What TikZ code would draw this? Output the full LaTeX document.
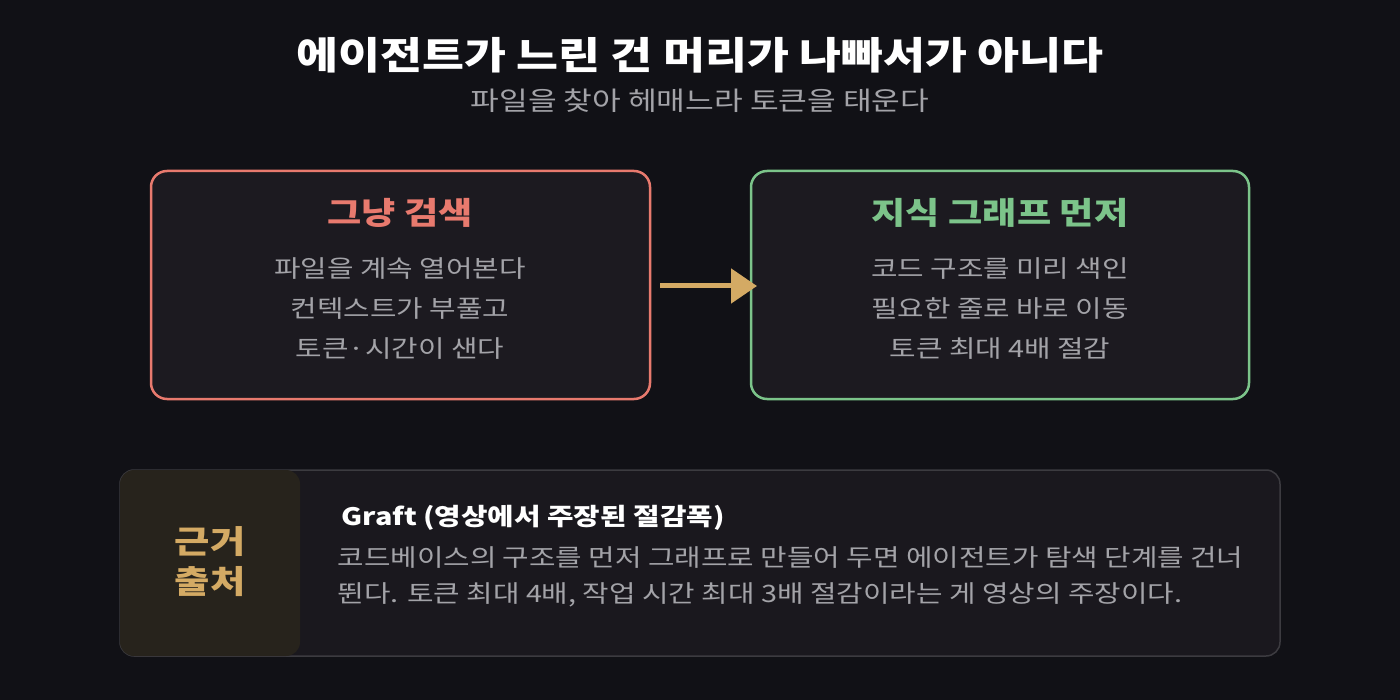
\documentclass[tikz,border=0pt]{standalone}
\usepackage{fontspec}
\setmainfont[FakeStretch=1.2]{Noto Sans CJK KR}
\usetikzlibrary{arrows.meta}
\definecolor{bg}{HTML}{111116}
\definecolor{boxbg}{HTML}{1C1A20}
\definecolor{red1}{HTML}{E87A6E}
\definecolor{grn}{HTML}{7CC48A}
\definecolor{gold}{HTML}{D4AA64}
\definecolor{txt}{HTML}{A3A3A8}
\definecolor{edge}{HTML}{3C3B40}
\definecolor{srcbg}{HTML}{27231C}
\begin{document}
\begin{tikzpicture}[x=1pt,y=-1pt,
  box/.style={draw,line width=2.5pt,rounded corners=16pt,fill=boxbg},
  body/.style={text=txt,font=\fontsize{24}{40}\selectfont,align=center},
  head/.style={font=\bfseries\fontsize{31}{36}\selectfont}]
\fill[bg] (0,0) rectangle (1400,700);
\useasboundingbox (0,0) rectangle (1400,700);
\node[text=white,font=\bfseries\fontsize{38}{44}\selectfont] (title) at (700,55) {에이전트가 느린 건 머리가 나빠서가 아니다};
\node[text=txt,font=\fontsize{26}{30}\selectfont] (sub) at (700,101) {파일을 찾아 헤매느라 토큰을 태운다};
\draw[box,draw=red1] (151,171) rectangle (650,399);
\node[head,text=red1] (lh) at (400,213) {그냥 검색};
\node[body] (lb) at (400,309) {파일을 계속 열어본다\\컨텍스트가 부풀고\\토큰·시간이 샌다};
\draw[box,draw=grn] (751,171) rectangle (1249,399);
\node[head,text=grn] (rh) at (1000,213) {지식 그래프 먼저};
\node[body] (rb) at (1000,309) {코드 구조를 미리 색인\\필요한 줄로 바로 이동\\토큰 최대 4배 절감};
\coordinate (a1) at (660,286); \coordinate (a2) at (757,286);
\draw[gold,line width=5pt,-{Triangle[length=26pt,width=34pt]}] (a1) -- (a2);
\draw[edge,line width=1.5pt,fill=boxbg!80!bg,rounded corners=14pt] (120,470) rectangle (1280,656);
\fill[srcbg,rounded corners=14pt] (120,470) rectangle (300,656);
\node[text=gold,font=\bfseries\fontsize{32}{40}\selectfont,align=center] (src) at (210,562) {근거\\출처};
\node[text=white,font=\bfseries\fontsize{24}{28}\selectfont,anchor=west] (gh) at (338,518) {Graft (영상에서 주장된 절감폭)};
\node[text=txt,font=\fontsize{24}{36}\selectfont,anchor=north west,align=left] (gb) at (334,543) {코드베이스의 구조를 먼저 그래프로 만들어 두면 에이전트가 탐색 단계를 건너\\뛴다. 토큰 최대 4배, 작업 시간 최대 3배 절감이라는 게 영상의 주장이다.};
\end{tikzpicture}
\end{document}
